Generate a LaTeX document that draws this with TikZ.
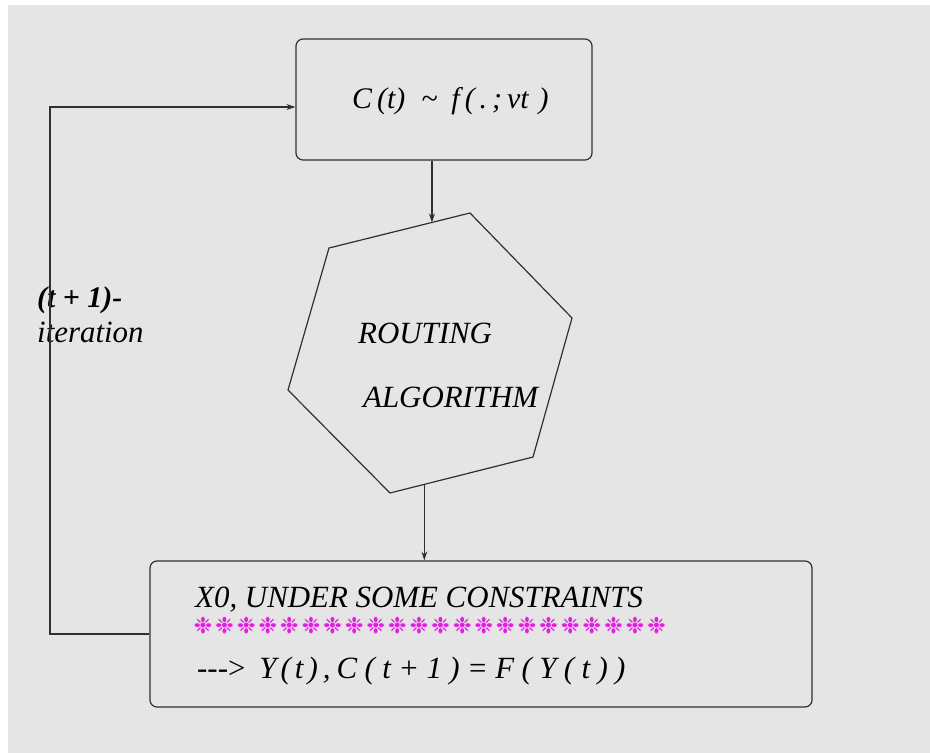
\documentclass[tikz,border=0pt]{standalone}
\usepackage{fontspec}
\setmainfont{Liberation Serif}
\newfontfamily\dingfont{DejaVu Sans}
\usetikzlibrary{arrows.meta}
\definecolor{paper}{HTML}{E5E5E5}
\definecolor{ink}{HTML}{303030}
\definecolor{starglow}{HTML}{F2C2F2}
\definecolor{starmag}{HTML}{E020E0}
% one asterisk of the separator row, on a fixed pitch
\newcommand\starcell{\makebox[21.6bp]{❉}}
\newcommand\starfour{\starcell\starcell\starcell\starcell}
\newcommand\starrow{\starfour\starfour\starfour\starfour\starfour\starcell\starcell}
% spacing between the symbols of the formula line
\newcommand\fgap{\hspace{7.4bp}}
\begin{document}
\begin{tikzpicture}[x=1bp,y=-1bp,
  line/.style={draw=ink, line width=1.2bp},
  arrow/.style={line, -{Stealth[length=9bp,width=6bp]}},
  box/.style={line, rectangle, rounded corners=7bp, inner sep=0pt},
  txt/.style={font=\fontsize{31}{36}\selectfont\itshape, inner sep=0pt, anchor=base west},
  stars/.style={inner sep=0pt, anchor=west}]
\useasboundingbox (0,0) rectangle (930,753);
\fill[paper] (8,5) rectangle (930,753);

% cost box
\node[box, minimum width=296bp, minimum height=121bp] (topbox) at (444,99.5) {};
\node[txt, font=\fontsize{30}{34}\selectfont\itshape] (cost) at (352,108)
  {C\,(t)\hspace{16bp}\textasciitilde\hspace{14bp}f\,(\,.\,;\,vt\,\,)};

% routing hexagon
\coordinate (h1) at (470,213);
\coordinate (h2) at (572,318);
\coordinate (h3) at (533,457);
\coordinate (h4) at (390,493);
\coordinate (h5) at (288,390);
\coordinate (h6) at (329,248);
\draw[line] (h1) -- (h2) -- (h3) -- (h4) -- (h5) -- (h6) -- cycle;
\path (h6) -- (h1) coordinate[pos=0.73] (hexin);
\path (h4) -- (h3) coordinate[pos=0.24] (hexout);
\node[txt] (routing) at (358,343) {ROUTING};
\node[txt] (algo) at (363,407) {ALGORITHM};

% result box
\node[box, minimum width=662bp, minimum height=146bp] (botbox) at (481,634) {};
\node[txt] (xzero) at (195,607) {X0, UNDER SOME CONSTRAINTS};
\node[stars, text=starglow, font=\dingfont\fontsize{25}{28}\selectfont] (glow) at (192,626) {\starrow};
\node[stars, text=starmag, font=\dingfont\fontsize{22}{24}\selectfont] (sep) at (192,626) {\starrow};
\node[txt] (result) at (197,678)
  {\upshape -{}-{}->\hspace{14bp}\itshape Y\hspace{4bp}(\hspace{4bp}t\hspace{4bp})\,,\hspace{6bp}C\fgap(\fgap t\fgap+\fgap1\fgap)\fgap=\fgap F\fgap(\fgap Y\fgap(\fgap t\fgap)\fgap)};

% iteration feedback
\coordinate (lc) at (50,107);
\node[txt, font=\fontsize{30}{36}\selectfont\bfseries\itshape] (iterA) at (37,307) {(t + 1)-};
\node[txt] (iterB) at (37,342) {iteration};

% connectors
\draw[arrow] (topbox.south -| hexin) -- (hexin);
\draw[arrow] (hexout) -- (hexout |- botbox.north);
\draw[arrow] (botbox.west) -| (lc) -- (lc -| topbox.west);
\end{tikzpicture}
\end{document}
